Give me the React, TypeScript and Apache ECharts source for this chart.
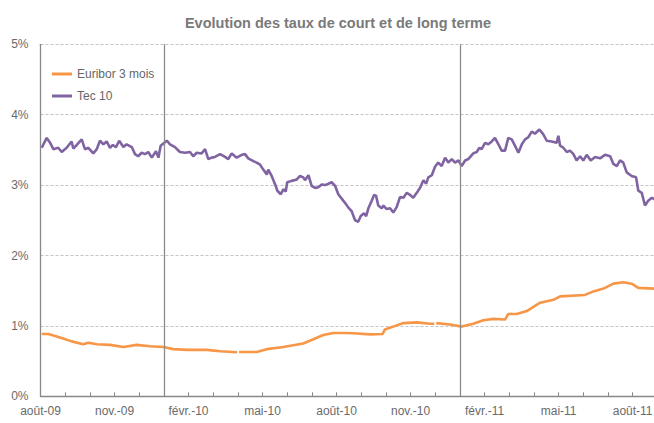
import { useEffect, useRef } from "react";
import * as echarts from "echarts";

// Axis: months elapsed since 1 August 2009
const monthLabels = ["août-09", "nov.-09", "févr.-10", "mai-10", "août-10", "nov.-10", "févr.-11", "mai-11", "août-11"];
const yearMarks = [5, 17]; // 1er janvier 2010, 1er janvier 2011
const axisMaxMonth = 25;

const tecMonths = [
  0.05, 0.25, 0.39, 0.52, 0.72, 0.86, 1.06, 1.26, 1.33, 1.47, 1.67, 1.8, 1.94, 2.14, 2.28, 2.41, 2.55, 2.68, 2.82, 2.93,
  3.06, 3.19, 3.36, 3.49, 3.7, 3.83, 3.96, 4.1, 4.24, 4.37, 4.51, 4.68, 4.78, 4.87, 4.98, 5.12, 5.25, 5.45, 5.65, 5.86,
  6.06, 6.19, 6.33, 6.53, 6.67, 6.8, 6.94, 7.07, 7.28, 7.48, 7.61, 7.75, 7.95, 8.16, 8.29, 8.42, 8.63, 8.76, 8.9, 9.03,
  9.17, 9.23, 9.37, 9.51, 9.6, 9.74, 9.84, 9.94, 10.0, 10.18, 10.39, 10.52, 10.65, 10.72, 10.86, 10.99, 11.13, 11.26, 11.4, 11.53,
  11.67, 11.8, 11.94, 12.07, 12.27, 12.34, 12.48, 12.61, 12.75, 12.88, 12.98, 13.11, 13.2, 13.29, 13.43, 13.52, 13.6, 13.69, 13.83, 13.9,
  14.03, 14.17, 14.3, 14.44, 14.57, 14.71, 14.84, 14.98, 15.11, 15.25, 15.38, 15.52, 15.63, 15.72, 15.86, 15.99, 16.12, 16.26, 16.4, 16.53,
  16.67, 16.8, 16.94, 17.07, 17.21, 17.34, 17.54, 17.68, 17.79, 17.88, 18.02, 18.15, 18.29, 18.42, 18.56, 18.69, 18.83, 18.96, 19.1, 19.23,
  19.37, 19.51, 19.64, 19.77, 19.91, 20.04, 20.22, 20.38, 20.52, 20.72, 20.92, 20.99, 21.06, 21.19, 21.33, 21.46, 21.6, 21.73, 21.87, 22.0,
  22.14, 22.3, 22.48, 22.68, 22.88, 23.09, 23.22, 23.36, 23.49, 23.62, 23.76, 23.96, 24.14, 24.23, 24.37, 24.5, 24.64, 24.78, 24.87, 25.0,
];
const tecValues = [
  3.53, 3.67, 3.6, 3.51, 3.53, 3.47, 3.53, 3.62, 3.52, 3.57, 3.65, 3.51, 3.53, 3.45, 3.51, 3.63, 3.58, 3.62, 3.53, 3.57,
  3.54, 3.63, 3.54, 3.58, 3.54, 3.44, 3.41, 3.46, 3.44, 3.47, 3.39, 3.48, 3.39, 3.56, 3.59, 3.63, 3.58, 3.54, 3.47, 3.46,
  3.47, 3.41, 3.46, 3.45, 3.51, 3.37, 3.39, 3.4, 3.44, 3.4, 3.37, 3.45, 3.39, 3.43, 3.44, 3.38, 3.34, 3.32, 3.29, 3.22,
  3.15, 3.22, 3.13, 3.01, 2.92, 2.87, 2.94, 2.91, 3.04, 3.06, 3.08, 3.13, 3.11, 3.07, 3.14, 2.99, 2.96, 2.97, 3.01, 3.0,
  3.02, 3.04, 2.99, 2.87, 2.78, 2.75, 2.68, 2.63, 2.5, 2.48, 2.56, 2.6, 2.56, 2.67, 2.78, 2.86, 2.85, 2.71, 2.67, 2.71,
  2.66, 2.67, 2.61, 2.69, 2.83, 2.82, 2.89, 2.86, 2.82, 2.89, 2.96, 3.07, 3.02, 3.11, 3.14, 3.26, 3.32, 3.27, 3.39, 3.32,
  3.37, 3.32, 3.35, 3.27, 3.35, 3.37, 3.45, 3.47, 3.53, 3.51, 3.6, 3.58, 3.62, 3.67, 3.58, 3.49, 3.49, 3.67, 3.65, 3.56,
  3.46, 3.58, 3.65, 3.68, 3.76, 3.73, 3.79, 3.72, 3.63, 3.62, 3.6, 3.7, 3.56, 3.53, 3.47, 3.49, 3.44, 3.35, 3.41, 3.35,
  3.43, 3.35, 3.4, 3.38, 3.43, 3.41, 3.3, 3.27, 3.35, 3.32, 3.18, 3.13, 3.11, 2.92, 2.89, 2.71, 2.78, 2.82, 2.8, 2.83,
];

const euriborMonths = [
  0.05, 0.32, 0.59, 0.92, 1.26, 1.73, 1.94, 2.28, 2.82, 3.36, 3.9, 4.44, 4.98, 5.38, 5.93, 6.74, 7.28, 7.97, 8.01, 8.05,
  8.76, 9.17, 9.84, 10.65, 11.06, 11.46, 11.87, 12.34, 12.68, 13.36, 13.87, 13.96, 14.3, 14.71, 15.25, 15.79, 15.96, 16.0, 16.04, 16.6,
  17.07, 17.54, 17.95, 18.35, 18.83, 18.96, 19.3, 19.71, 19.98, 20.25, 20.79, 21.06, 22.07, 22.41, 22.82, 23.22, 23.62, 23.96, 24.23, 24.87,
  25.0,
];
const euriborValues: (number | null)[] = [
  0.885, 0.885, 0.856, 0.82, 0.78, 0.74, 0.76, 0.74, 0.73, 0.7, 0.73, 0.71, 0.7, 0.67, 0.66, 0.66, 0.64, 0.625, null, 0.63,
  0.63, 0.67, 0.7, 0.75, 0.81, 0.87, 0.9, 0.9, 0.895, 0.88, 0.885, 0.95, 0.99, 1.04, 1.05, 1.03, 1.03, null, 1.04, 1.02,
  0.99, 1.03, 1.08, 1.1, 1.09, 1.17, 1.17, 1.21, 1.27, 1.33, 1.37, 1.42, 1.44, 1.49, 1.53, 1.6, 1.62, 1.6, 1.54, 1.53,
  1.53,
];

const FONT = "'Liberation Sans', Arial, sans-serif";

export default function App() {
  const ref = useRef<HTMLDivElement>(null);
  useEffect(() => {
    if (!ref.current) return;
    const chart = echarts.init(ref.current, null, { renderer: "svg" });
    chart.setOption({
      animation: false,
      backgroundColor: "#ffffff",
      title: {
        text: "Evolution des taux de court et de long terme",
        left: "center",
        top: 10,
        textStyle: { fontFamily: FONT, fontSize: 14.5, fontWeight: "bold", color: "#7a7a7a" },
      },
      legend: {
        orient: "vertical",
        left: 47,
        top: 62,
        itemWidth: 20,
        itemHeight: 3,
        itemGap: 8,
        icon: "rect",
        textStyle: { fontFamily: FONT, fontSize: 12, color: "#666666", lineHeight: 14 },
        data: ["Euribor 3 mois", "Tec 10"],
      },
      grid: { left: 40.5, right: 676 - 657.3, top: 44.3, bottom: 423 - 396.3 },
      xAxis: {
        type: "value",
        min: 0,
        max: axisMaxMonth,
        interval: 1,
        axisLine: { show: true, lineStyle: { color: "#888888", width: 1.3 } },
        axisTick: { show: true, inside: true, length: 4, lineStyle: { color: "#888888", width: 1 } },
        splitLine: { show: false },
        axisLabel: {
          margin: 9,
          fontFamily: FONT,
          fontSize: 12,
          color: "#6a6a6a",
          showMaxLabel: false,
          formatter: (v: number) => (Math.round(v) % 3 === 0 ? monthLabels[Math.round(v) / 3] ?? "" : ""),
        },
      },
      yAxis: {
        type: "value",
        min: 0,
        max: 5,
        interval: 1,
        axisLine: { show: true, lineStyle: { color: "#888888", width: 1.3 } },
        axisTick: { show: false },
        splitLine: { show: true, lineStyle: { color: "#c4c4c4", type: [3, 2], width: 1 } },
        axisLabel: { margin: 12, fontFamily: FONT, fontSize: 12, color: "#6a6a6a", formatter: "{value}%" },
      },
      series: [
        {
          name: "Euribor 3 mois",
          type: "line",
          showSymbol: false,
          symbol: "none",
          connectNulls: false,
          lineStyle: { color: "#F79646", width: 2.6 },
          itemStyle: { color: "#F79646" },
          data: euriborMonths.map((m, i) => [m, euriborValues[i] == null ? "-" : euriborValues[i]]),
          markLine: {
            silent: true,
            symbol: ["none", "none"],
            label: { show: false },
            lineStyle: { color: "#8c8c8c", width: 1.3, type: "solid" },
            data: yearMarks.map((x) => ({ xAxis: x })),
          },
        },
        {
          name: "Tec 10",
          type: "line",
          showSymbol: false,
          symbol: "none",
          lineStyle: { color: "#8064A2", width: 2.6 },
          itemStyle: { color: "#8064A2" },
          data: tecMonths.map((m, i) => [m, tecValues[i]]),
        },
      ],
    });
    return () => chart.dispose();
  }, []);
  return (
    <div style={{ position: "fixed", left: 0, top: 0, width: 654, height: 423, overflow: "hidden", background: "#fff" }}>
      <div ref={ref} style={{ width: 676, height: 423 }} />
    </div>
  );
}
